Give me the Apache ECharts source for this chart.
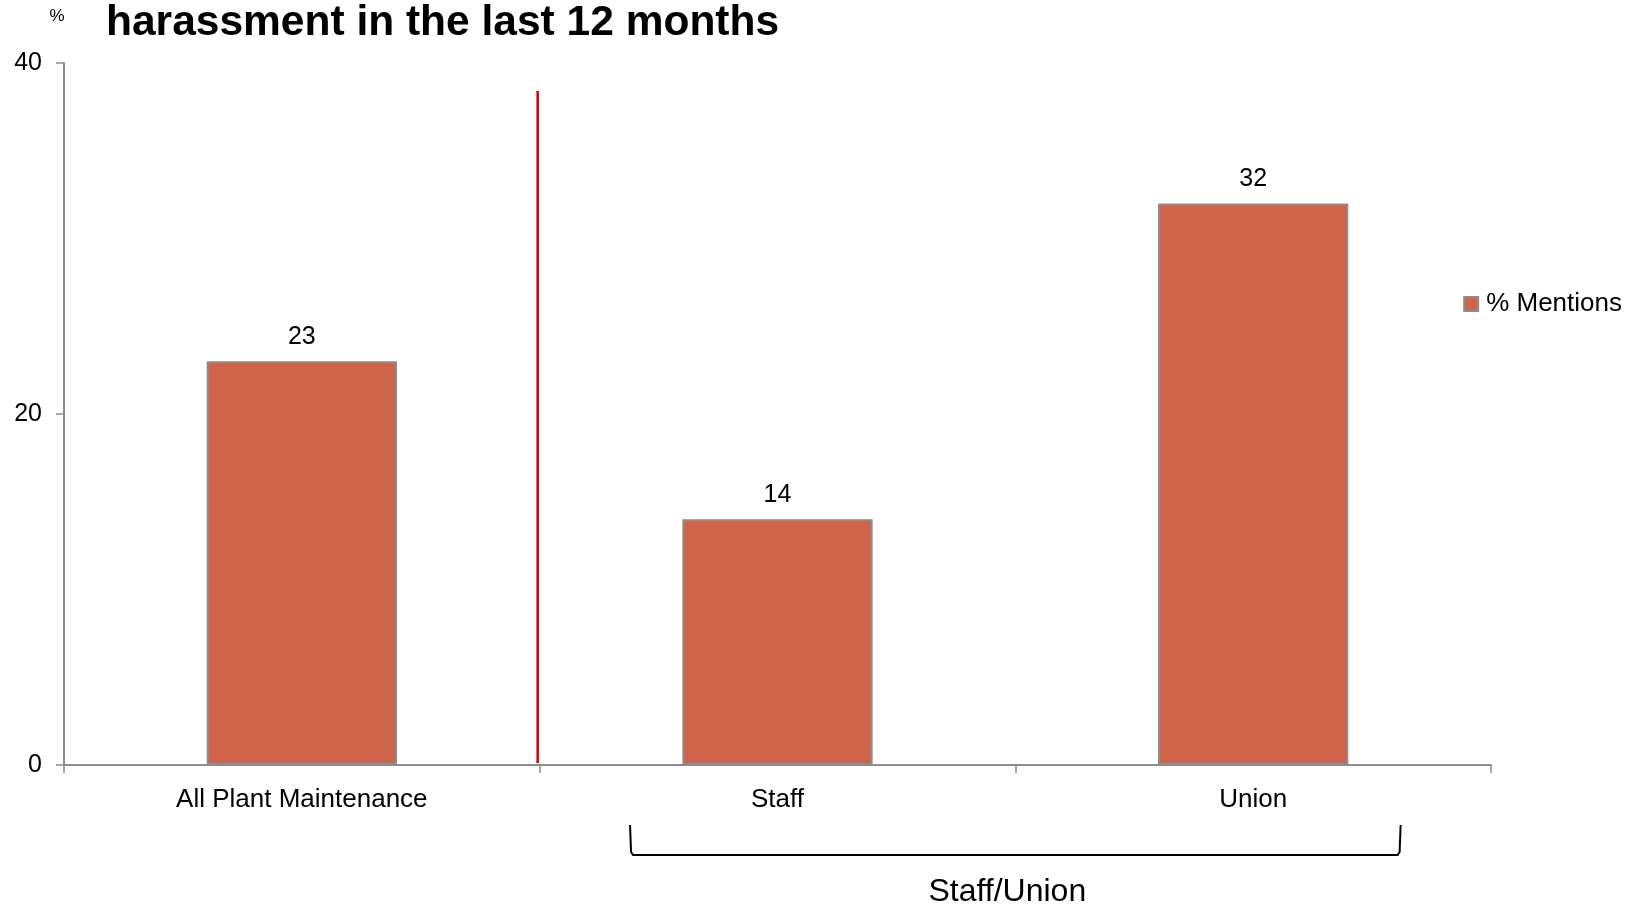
<!DOCTYPE html>
<html>
<head>
<meta charset="utf-8">
<style>
  html, body { margin: 0; padding: 0; background: #ffffff; }
  #chart { width: 1631px; height: 905px; }
</style>
<script src="https://cdn.jsdelivr.net/npm/echarts@6/dist/echarts.min.js"></script>
</head>
<body>
<div id="chart"></div>
<script>
// Share of respondents reporting harassment, by group
const categories = ['All Plant Maintenance', 'Staff', 'Union'];
const mentions = [23, 14, 32];
const seriesName = '% Mentions';
const groupLabel = 'Staff/Union';
const titleText = 'harassment in the last 12 months';
const yTicks = { min: 0, max: 40, interval: 20 };
const dividerTop = 38.4; // upper end of the red divider, in axis units

const FONT = '"Liberation Sans", Arial, sans-serif';
const BAR = '#D0644A';
const AXIS = '#8C8C8C';

const chart = echarts.init(document.getElementById('chart'), null, { renderer: 'canvas' });

chart.setOption({
  animation: false,
  backgroundColor: '#ffffff',
  textStyle: { fontFamily: FONT },
  title: {
    text: titleText,
    left: 101,
    top: -3,
    textStyle: { fontFamily: FONT, fontSize: 42.5, fontWeight: 'bold', color: '#000' }
  },
  legend: {
    data: [seriesName],
    right: 4,
    top: 286,
    itemWidth: 14,
    itemHeight: 14,
    itemGap: 6,
    icon: 'rect',
    textStyle: { fontFamily: FONT, fontSize: 26, color: '#000', padding: [0, 0, 0, 3] }
  },
  grid: { left: 64, right: 140, top: 63, bottom: 140, containLabel: false },
  xAxis: {
    type: 'category',
    data: categories,
    boundaryGap: true,
    axisLine: { lineStyle: { color: AXIS, width: 2 } },
    axisTick: { show: true, length: 8, alignWithLabel: false, lineStyle: { color: AXIS, width: 1.5 } },
    axisLabel: { fontFamily: FONT, fontSize: 26, color: '#000', margin: 22, interval: 0 }
  },
  yAxis: {
    type: 'value',
    min: yTicks.min,
    max: yTicks.max,
    interval: yTicks.interval,
    name: '%',
    nameLocation: 'end',
    nameGap: 38,
    nameTextStyle: { fontFamily: FONT, fontSize: 17, color: '#000', align: 'center', padding: [0, 14, 0, 0] },
    splitLine: { show: false },
    axisLine: { show: true, lineStyle: { color: AXIS, width: 2 } },
    axisTick: { show: true, length: 8, lineStyle: { color: AXIS, width: 1.5 } },
    axisLabel: { fontFamily: FONT, fontSize: 25, color: '#000', margin: 22 }
  },
  series: [{
    name: seriesName,
    type: 'bar',
    data: mentions,
    barWidth: '40%',
    itemStyle: { color: BAR, borderColor: AXIS, borderWidth: 2 },
    label: {
      show: true,
      position: 'top',
      distance: 12,
      fontFamily: FONT,
      fontSize: 25,
      color: '#000'
    }
  }]
});

// Divider between the total and the breakdown, plus the group bracket,
// positioned from the chart's own coordinate system.
function drawOverlays() {
  const c0 = chart.convertToPixel({ xAxisIndex: 0 }, categories[0]);
  const c1 = chart.convertToPixel({ xAxisIndex: 0 }, categories[1]);
  const c2 = chart.convertToPixel({ xAxisIndex: 0 }, categories[2]);
  const band = c1 - c0;
  const yZero = chart.convertToPixel({ yAxisIndex: 0 }, 0);
  const yTop = chart.convertToPixel({ yAxisIndex: 0 }, dividerTop);
  const divX = c0 + band / 2 - 2;

  const bLeft = c1 - band / 2 + band * 0.19;
  const bRight = c2 + band / 2 - band * 0.19;
  const bTop = yZero + 60;
  const bBot = yZero + 90;

  chart.setOption({
    graphic: [
      {
        type: 'line',
        shape: { x1: divX, y1: yTop, x2: divX, y2: yZero - 2 },
        style: { stroke: '#D00000', lineWidth: 2.5 },
        z: 10
      },
      {
        type: 'polyline',
        shape: {
          points: [
            [bLeft, bTop],
            [bLeft + 1, bBot - 3],
            [bLeft + 3, bBot],
            [bRight - 3, bBot],
            [bRight - 1, bBot - 3],
            [bRight, bTop]
          ]
        },
        style: { stroke: '#000', lineWidth: 2, fill: null },
        z: 10
      },
      {
        type: 'text',
        x: (bLeft + bRight) / 2 - 8,
        y: bBot + 37,
        style: {
          text: groupLabel,
          fontFamily: FONT,
          fontSize: 32,
          fill: '#000',
          align: 'center',
          verticalAlign: 'middle'
        },
        z: 10
      }
    ]
  });
}
drawOverlays();
</script>
</body>
</html>
